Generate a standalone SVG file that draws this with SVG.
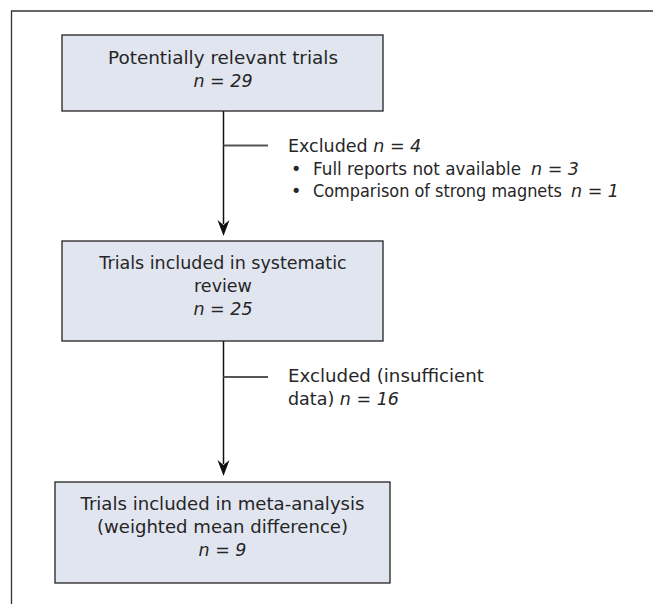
<svg xmlns="http://www.w3.org/2000/svg" width="653" height="604" viewBox="0 0 653 604">
<style>
  .frame{fill:none;stroke:#333;stroke-width:1.3}
  .box{fill:#e1e5f0;stroke:#222;stroke-width:1.3}
  .t{font-family:"DejaVu Sans",sans-serif;font-size:17.5px;fill:#262626}
  .cd{font-family:"DejaVu Sans Condensed","DejaVu Sans",sans-serif;font-size:17.9px}
  .c{text-anchor:middle}
  .e{text-anchor:end}
  .i{font-style:italic}
  .line{fill:none;stroke:#111;stroke-width:1.5}
  .br{fill:none;stroke:#555;stroke-width:1.8}
  .ah{fill:#111}
</style>
<path class="frame" d="M11.5,604 V11 H653"/>
<g id="connectors">
  <line class="line" x1="223.5" y1="111" x2="223.5" y2="224"/>
  <path class="ah" d="M223.5,236 L217.5,220 L223.5,225 L229.5,220 Z"/>
  <line class="br" x1="223.5" y1="145.5" x2="268" y2="145.5"/>
  <line class="line" x1="223.5" y1="341" x2="223.5" y2="464"/>
  <path class="ah" d="M223.5,476 L217.5,460 L223.5,465 L229.5,460 Z"/>
  <line class="br" x1="223.5" y1="377" x2="268" y2="377"/>
</g>
<g id="node1">
  <rect class="box" x="62" y="35" width="321" height="76"/>
  <text class="t c" x="223" y="64" textLength="230" lengthAdjust="spacingAndGlyphs">Potentially relevant trials</text>
  <text class="t c i" x="223" y="87">n = 29</text>
</g>
<g id="excl1">
  <text class="t" x="288" y="152">Excluded  <tspan class="i">n = 4</tspan></text>
  <text class="t" x="291" y="174.5">•</text>
  <text class="t" x="313" y="174.5" textLength="208" lengthAdjust="spacingAndGlyphs">Full reports not available</text>
  <text class="t e i" x="579" y="174.5">n = 3</text>
  <text class="t" x="291" y="197">•</text>
  <text class="t cd" x="313" y="197">Comparison of strong magnets</text>
  <text class="t e i" x="619" y="197">n = 1</text>
</g>
<g id="node2">
  <rect class="box" x="62" y="241" width="321" height="100"/>
  <text class="t c" x="223" y="269">Trials included in systematic</text>
  <text class="t c" x="223" y="292">review</text>
  <text class="t c i" x="223" y="315">n = 25</text>
</g>
<g id="excl2">
  <text class="t" x="288" y="382" textLength="196" lengthAdjust="spacingAndGlyphs">Excluded (insufficient</text>
  <text class="t" x="288" y="405">data)  <tspan class="i">n = 16</tspan></text>
</g>
<g id="node3">
  <rect class="box" x="55" y="482" width="335" height="101"/>
  <text class="t c" x="222.5" y="510" textLength="284" lengthAdjust="spacingAndGlyphs">Trials included in meta-analysis</text>
  <text class="t c" x="222.5" y="533" textLength="251" lengthAdjust="spacingAndGlyphs">(weighted mean difference)</text>
  <text class="t c i" x="222.5" y="556">n = 9</text>
</g>
</svg>
